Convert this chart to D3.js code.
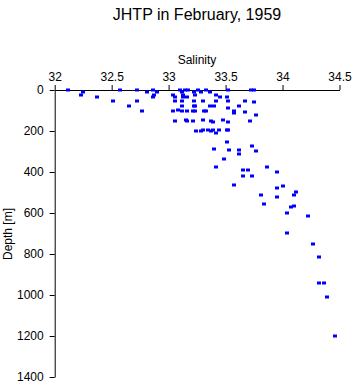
<!DOCTYPE html>
<html><head><meta charset="utf-8">
<script src="https://cdn.jsdelivr.net/npm/d3@7"></script>
<style>body{margin:0;background:#fff}svg{display:block}text{font-family:"Liberation Sans",Arial,sans-serif}</style>
</head><body><svg id="c" width="353" height="384"></svg>
<script>
const title = "JHTP in February, 1959";
const xLabel = "Salinity";
const yLabel = "Depth [m]";
const xTicks = [32, 32.5, 33, 33.5, 34, 34.5];
const yTicks = [0, 200, 400, 600, 800, 1000, 1200, 1400];
const salinity = [
 32.12,32.25,32.23,32.37,32.51,32.57,32.65,32.72,32.72,32.77,32.81,32.86,32.87,32.86,32.90,
 33.10,33.14,33.17,33.26,33.33,33.52,33.72,33.75,
 33.12,33.22,33.28,33.36,
 33.04,33.13,33.23,33.42,
 33.06,33.13,33.16,33.45,33.51,
 33.06,33.12,33.22,33.30,33.42,33.52,33.67,33.75,
 33.12,33.22,33.23,33.36,33.40,33.62,33.52,
 33.04,33.08,33.12,33.16,33.21,33.23,33.31,33.33,33.57,33.67,33.57,33.77,
 33.06,33.15,33.16,33.21,33.30,33.37,33.39,33.48,33.52,33.71,
 33.24,33.28,33.30,33.35,33.37,33.39,33.42,33.44,33.51,33.52,
 33.51,33.40,33.53,33.62,33.62,33.73,33.77,33.49,33.42,33.65,33.70,33.65,33.73,33.86,33.95,
 33.57,34.00,33.95,33.81,33.95,34.10,34.12,33.84,34.07,34.10,34.04,34.22,34.04,34.27,34.32,
 34.32,34.36,34.39,34.46
];
const depth = [
 0,11,24,34,52,0,77,0,52,101,11,0,24,34,11,
 0,0,0,0,0,0,0,0,
 11,11,11,11,
 24,24,24,24,
 34,34,34,34,34,
 52,52,52,52,52,52,52,60,
 77,77,77,77,77,77,89,
 102,99,102,102,102,102,102,102,102,106,114,122,
 151,148,151,151,148,151,155,145,158,151,
 199,201,195,197,201,197,211,197,197,197,
 255,288,294,294,314,275,299,337,377,390,390,421,420,374,400,
 465,470,477,511,522,512,499,558,572,567,601,616,699,753,813,
 941,941,1011,1201
];

const svg = d3.select("#c");
const x = d3.scaleLinear().domain([32, 34.5]).range([54.7, 339.5]);
const y = d3.scaleLinear().domain([0, 1400]).range([90, 377]);

svg.append("text").attr("x", 197).attr("y", 20).attr("text-anchor", "middle")
  .attr("font-size", 16).text(title);
svg.append("text").attr("x", 197).attr("y", 64).attr("text-anchor", "middle")
  .attr("font-size", 12).text(xLabel);
svg.append("text").attr("transform", "translate(12,234) rotate(-90)")
  .attr("text-anchor", "middle").attr("font-size", 12).text(yLabel);

const gx = svg.append("g").attr("transform", "translate(0,90)")
  .call(d3.axisTop(x).tickValues(xTicks).tickFormat(d3.format("")).tickSize(5).tickSizeOuter(0).tickPadding(4));
const gy = svg.append("g").attr("transform", "translate(54.7,0)")
  .call(d3.axisLeft(y).tickValues(yTicks).tickFormat(d3.format("d")).tickSize(5).tickSizeOuter(0).tickPadding(6));
[gx, gy].forEach(g => {
  g.selectAll("text").attr("font-size", 12).attr("font-family", "Liberation Sans, Arial, sans-serif").attr("fill", "#000");
  g.selectAll("line,path").attr("stroke", "#000");
});

const pts = salinity.map((s, i) => ({s, d: depth[i]}));
svg.append("g").selectAll("rect").data(pts).join("rect")
  .attr("x", d => Math.round(x(d.s)) - 2)
  .attr("y", d => Math.round(y(d.d)) - 1.5)
  .attr("width", 4).attr("height", 3)
  .attr("fill", "#0000ff");
</script></body></html>
